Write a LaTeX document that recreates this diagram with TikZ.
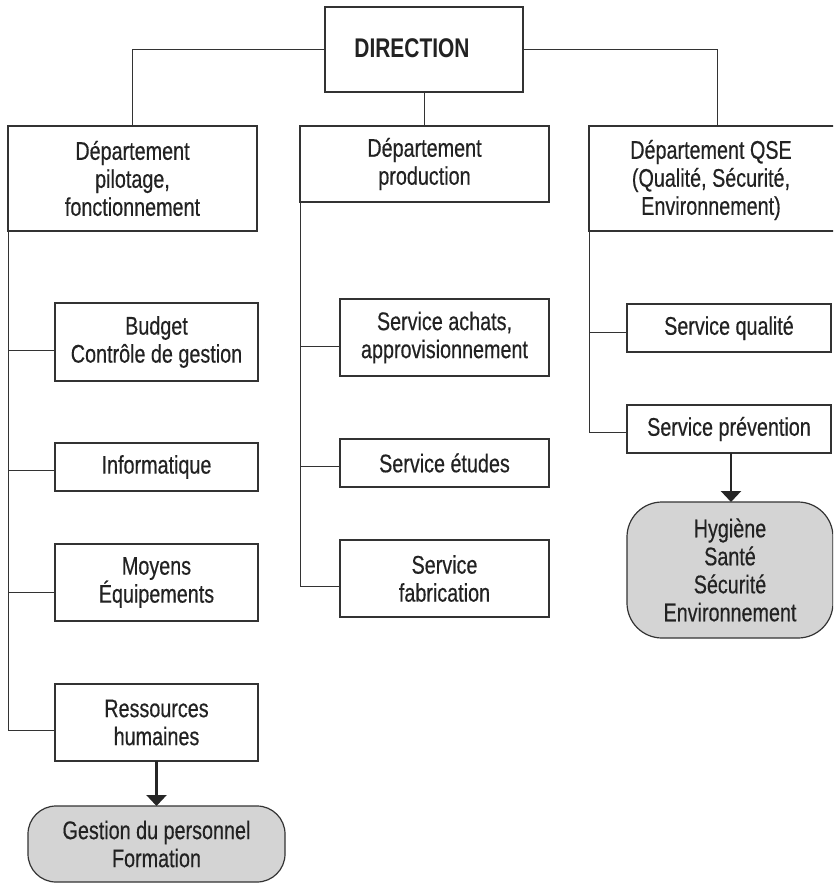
\documentclass[tikz,border=0pt]{standalone}
\usepackage{fontspec}
\setmainfont[FakeStretch=0.775,FakeBold=0.4]{Liberation Sans}
\newfontfamily\dirfont[FakeStretch=0.775]{Liberation Sans Bold}
\usetikzlibrary{arrows.meta}
\definecolor{linec}{HTML}{333333}
\definecolor{textc}{HTML}{222222}
\definecolor{boxfill}{HTML}{D4D4D4}
\begin{document}
\begin{tikzpicture}[x=1pt,y=-1pt,
  every node/.style={inner sep=0pt,outer sep=0pt,align=center,text=textc,font=\fontsize{25.5}{28}\selectfont},
  orgbox/.style={draw=linec,line width=1.2pt,fill=white,rectangle},
  roundbox/.style={draw=linec,line width=1.2pt,fill=boxfill,rectangle},
  conn/.style={draw=linec,line width=1pt},
  arr/.style={draw=black!85,line width=2.4pt,-{Triangle[width=20pt,length=11pt]}}]
\useasboundingbox (0,0) rectangle (833,883);
\clip (0,0) rectangle (833,883);

% nodes
\node[orgbox,minimum width=198pt,minimum height=85pt] (dir) at (424,49.5) {};
\node[font=\dirfont\fontsize{27}{30}\selectfont] (dirtext) at (412,48) {DIRECTION};

\node[orgbox,minimum width=249pt,minimum height=105pt] (p1) at (132.5,178.5) {Département\\pilotage,\\fonctionnement};
\node[orgbox,minimum width=249pt,minimum height=76pt] (p2) at (424.5,164) {Département\\production};
\node[orgbox,minimum width=252pt,minimum height=105pt,anchor=west] (p3) at (589,178.5) {};
\node (p3text) at (711,180) {Département QSE\\(Qualité, Sécurité,\\Environnement)};

\node[orgbox,minimum width=203pt,minimum height=78pt] (budget) at (156.5,342) {Budget\\Contrôle de gestion};
\node[orgbox,minimum width=203pt,minimum height=48pt] (info) at (156.5,467) {Informatique};
\node[orgbox,minimum width=203pt,minimum height=77pt] (moyens) at (156.5,582.5) {Moyens\\Équipements};
\node[orgbox,minimum width=203pt,minimum height=77pt] (rh) at (156.5,722.5) {Ressources\\humaines};
\node[roundbox,rounded corners=28pt,minimum width=257pt,minimum height=76pt] (gp) at (156.5,844) {Gestion du personnel\\Formation};

\node[orgbox,minimum width=209pt,minimum height=77pt] (achats) at (444.5,337.5) {Service achats,\\approvisionnement};
\node[orgbox,minimum width=209pt,minimum height=48pt] (etudes) at (444.5,463) {Service études};
\node[orgbox,minimum width=209pt,minimum height=77pt] (fab) at (444.5,578.5) {Service\\fabrication};

\node[orgbox,minimum width=204pt,minimum height=48pt] (qual) at (729,328) {Service qualité};
\node[orgbox,minimum width=204pt,minimum height=48pt] (prev) at (729,429) {Service prévention};
\node[roundbox,rounded corners=35pt,minimum width=206pt,minimum height=136pt] (hyg) at (730,570) {Hygiène\\Santé\\Sécurité\\Environnement};

% connectors from direction
\draw[conn] (dir.west) -| (p1.north);
\draw[conn] (dir.east) -| (p3.north -| 717,0);
\draw[conn] (dir.south) -- (p2.north -| dir.south);

% left branch
\draw[conn] (p1.south west) |- ([yshift=-7.5pt]rh.west);
\draw[conn] (p1.south west |- budget.west) ++(0,8) -- ([yshift=-8pt]budget.west);
\draw[conn] (p1.south west |- info.west) ++(0,3) -- ([yshift=-3pt]info.west);
\draw[conn] (p1.south west |- moyens.west) ++(0,9.5) -- ([yshift=-9.5pt]moyens.west);

% middle branch
\draw[conn] (p2.south west) |- ([yshift=-7.5pt]fab.west);
\draw[conn] (p2.south west |- achats.west) ++(0,8.5) -- ([yshift=-8.5pt]achats.west);
\draw[conn] (p2.south west |- etudes.west) ++(0,3) -- ([yshift=-3pt]etudes.west);

% right branch
\draw[conn] (p3.south west) |- ([yshift=-3pt]prev.west);
\draw[conn] (p3.south west |- qual.west) ++(0,4) -- ([yshift=-4pt]qual.west);

% arrows
\draw[arr] (rh.south) -- (gp.north);
\draw[arr] ([xshift=2pt]prev.south) -- ([xshift=1pt]hyg.north);
\end{tikzpicture}
\end{document}
